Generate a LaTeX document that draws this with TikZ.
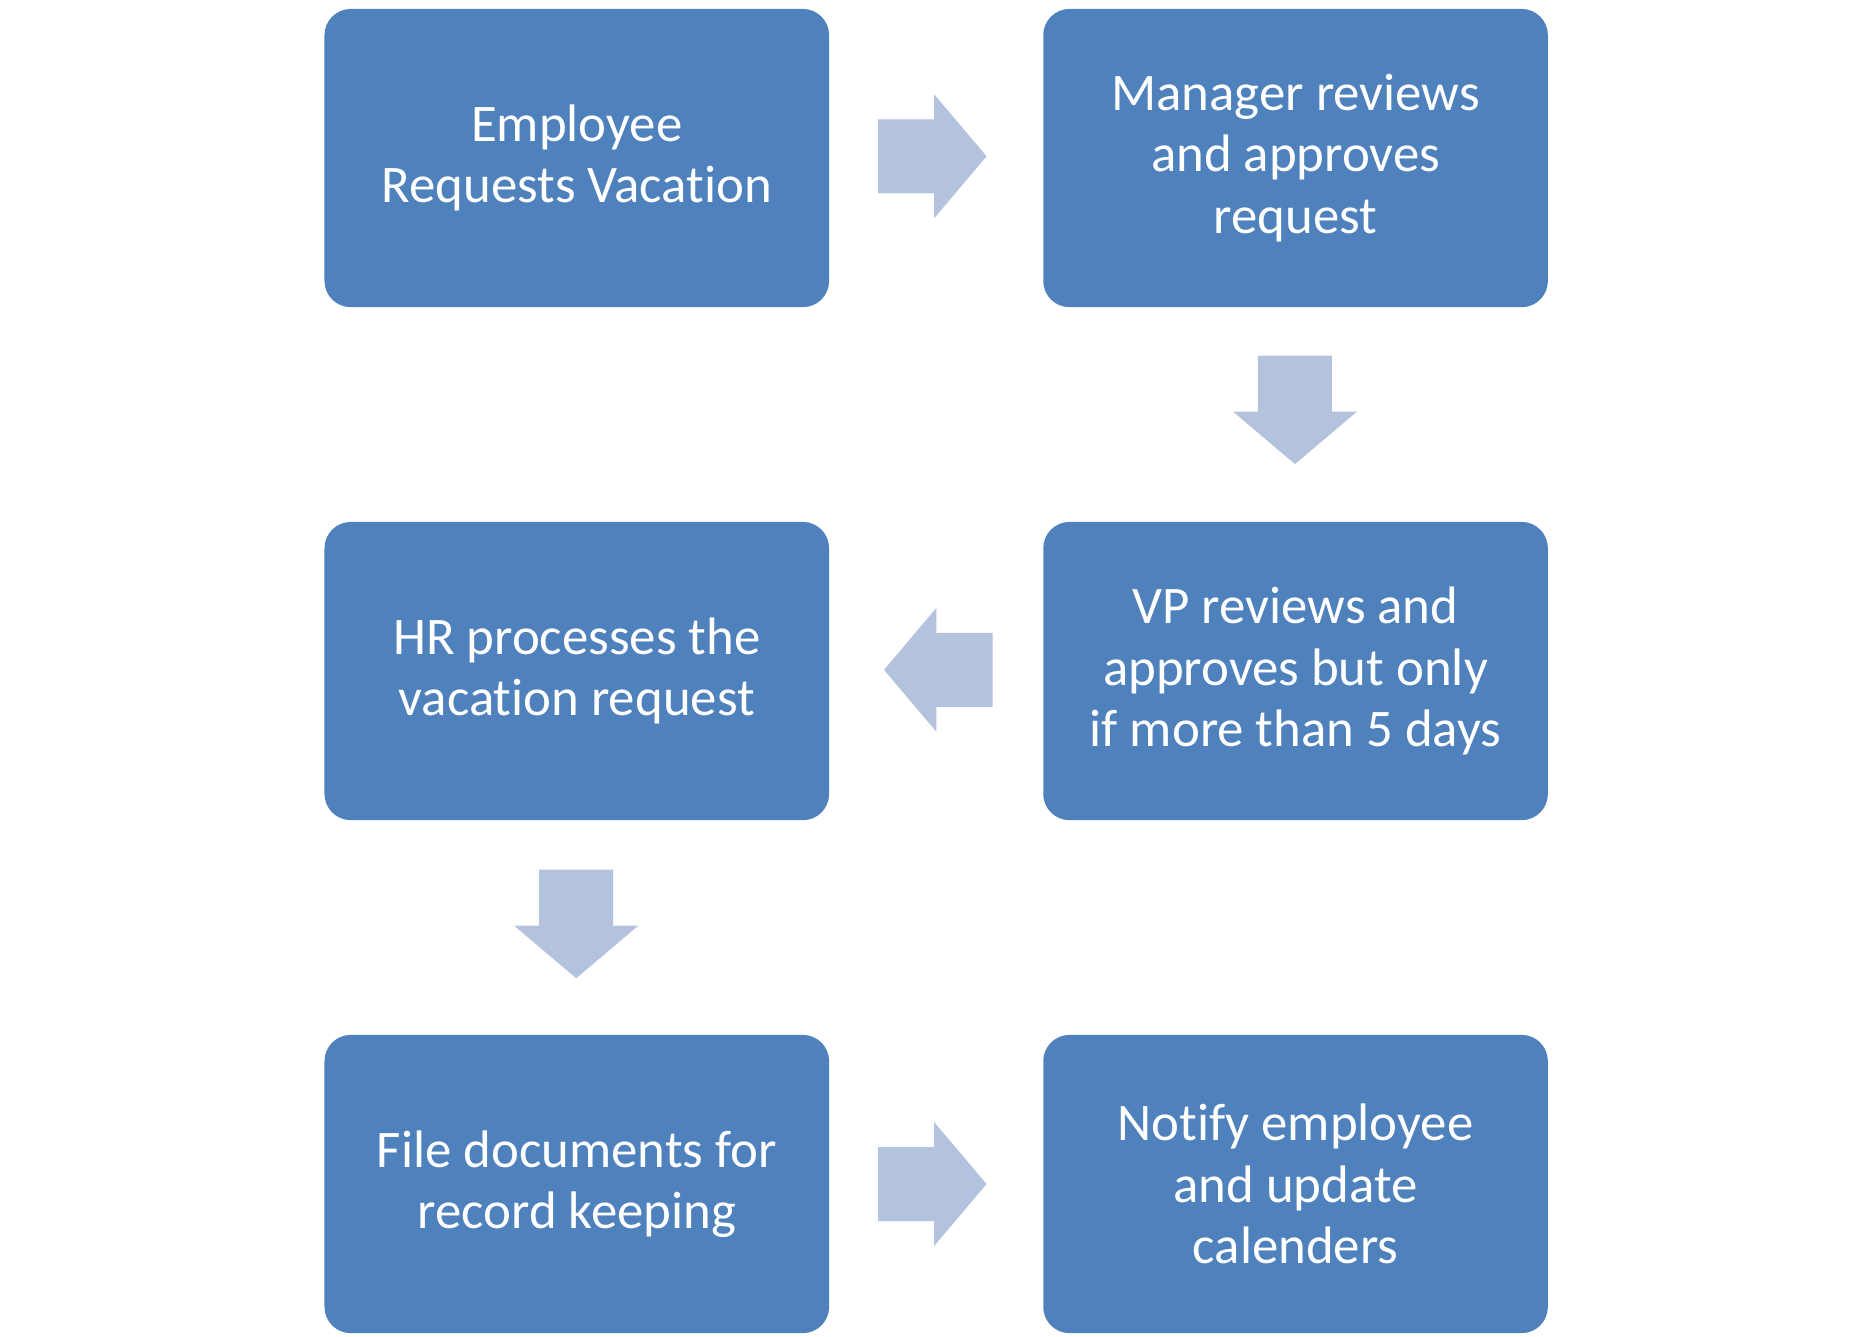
\documentclass[tikz,border=0pt]{standalone}
\usepackage{fontspec}
\setmainfont{Carlito}[Ligatures=NoCommon]
\definecolor{boxblue}{HTML}{4F81BD}
\definecolor{arrowblue}{HTML}{B3C2DD}
\tikzset{
  stepbox/.style={fill=boxblue,rounded corners=0.22cm,minimum width=4.23cm,minimum height=2.5cm,
    align=center,text=white,font=\fontsize{12.6}{14.6}\selectfont},
}
\newcommand\flowarrow[2]{% position, rotation
  \fill[arrowblue,shift={#1},rotate=#2] (0,0.31) -- (0.47,0.31) -- (0.47,0.52) -- (0.91,0)
    -- (0.47,-0.52) -- (0.47,-0.31) -- (0,-0.31) -- cycle;}
\begin{document}
\begin{tikzpicture}
  \useasboundingbox (0,0) rectangle (15.6,-11.2);
  \node[stepbox] (emp) at (4.835,-1.325) {Employee\\Requests Vacation};
  \node[stepbox] (mgr) at (10.86,-1.325) {Manager reviews\\and approves\\request};
  \node[stepbox] (vp) at (10.86,-5.625) {VP reviews and\\approves but only\\if more than 5 days};
  \node[stepbox] (hr) at (4.835,-5.625) {HR processes the\\vacation request};
  \node[stepbox] (file) at (4.835,-9.925) {File documents for\\record keeping};
  \node[stepbox] (notify) at (10.86,-9.925) {Notify employee\\and update\\calenders};
  % block arrows between the steps
  \flowarrow{(7.36,-1.31)}{0}
  \flowarrow{(10.855,-2.98)}{-90}
  \flowarrow{(8.32,-5.615)}{180}
  \flowarrow{(4.83,-7.29)}{-90}
  \flowarrow{(7.36,-9.925)}{0}
\end{tikzpicture}
\end{document}
